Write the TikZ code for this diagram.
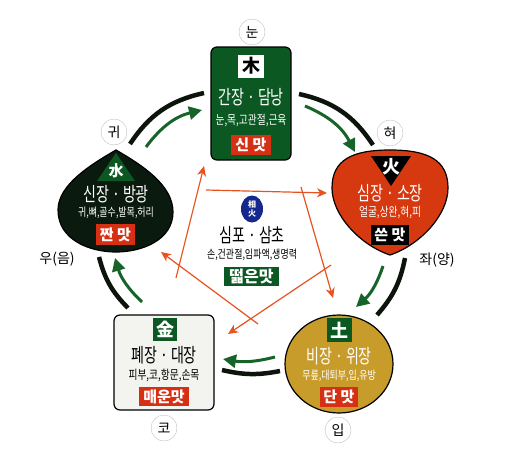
\documentclass[tikz,border=0pt]{standalone}
\usepackage{fontspec}
\newfontfamily\kr[FakeStretch=0.72]{Noto Sans CJK KR}
\newfontfamily\krpart[FakeStretch=0.78]{Noto Sans CJK KR}
\newfontfamily\krwide{Noto Sans CJK KR}
\usetikzlibrary{arrows.meta, shapes.geometric, positioning}

\definecolor{woodgreen}{RGB}{12,88,34}
\definecolor{firered}{RGB}{214,56,16}
\definecolor{earthgold}{RGB}{200,156,42}
\definecolor{metalwhite}{RGB}{243,243,240}
\definecolor{waterblack}{RGB}{10,26,14}
\definecolor{tastered}{RGB}{214,48,20}
\definecolor{flowgreen}{RGB}{22,100,42}
\definecolor{ringblack}{RGB}{12,20,12}
\definecolor{checkorange}{RGB}{232,82,30}
\definecolor{xiangblue}{RGB}{22,40,140}

\newcommand{\organfont}{\kr\fontsize{19.5}{20}\selectfont}
\newcommand{\partfont}{\krpart\fontsize{12.5}{13}\selectfont}
\newcommand{\tastefont}{\krwide\bfseries\fontsize{15}{16}\selectfont}
\newcommand{\hanjafont}{\krwide\bfseries\fontsize{18}{19}\selectfont}
\newcommand{\sensefont}{\krwide\fontsize{14}{15}\selectfont}

\begin{document}
\begin{tikzpicture}[x=1pt, y=-1pt]
\tikzstyle{body}=[draw=black, line width=1.2]
\tikzstyle{organ}=[font=\organfont, inner sep=0]
\tikzstyle{part}=[font=\partfont, inner sep=0]
\tikzstyle{taste}=[fill=tastered, text=white, font=\tastefont, minimum width=40, minimum height=20, inner sep=0]
\tikzstyle{hanja}=[font=\hanjafont, text=white, inner sep=0]
\tikzstyle{sense}=[circle, draw=black!25, minimum size=26, inner sep=0, font=\sensefont]
\tikzstyle{ring}=[draw=ringblack, line width=4.5]
\tikzstyle{flow}=[draw=flowgreen, line width=3, -{Triangle[length=13pt,width=13pt]}]
\tikzstyle{check}=[draw=checkorange, line width=1.2, -{Stealth[length=10pt,width=9pt,inset=3pt]}]
\useasboundingbox (0,0) rectangle (508,471);

\node[body, fill=woodgreen, rounded corners=6, minimum width=80, minimum height=113] (wood) at (251,103.5) {};
\draw[body, fill=firered] (390,255) .. controls (360,245) and (332,215) .. (332,188) .. controls (332,160) and (352,150) .. (390,150) .. controls (428,150) and (448,160) .. (448,188) .. controls (448,215) and (420,245) .. (390,255) -- cycle;
\node[body, ellipse, fill=earthgold, minimum width=108, minimum height=98, inner sep=0] (earth) at (339,364) {};
\node[body, fill=metalwhite, rounded corners=6, minimum width=100, minimum height=95] (metal) at (164,362.5) {};
\draw[body, fill=waterblack] (116,150) .. controls (90,165) and (58,185) .. (58,210) .. controls (58,240) and (90,252) .. (116,252) .. controls (142,252) and (173,240) .. (173,212) .. controls (173,185) and (142,165) .. (116,150) -- cycle;

\node[hanja, fill=white, text=black, minimum width=26, minimum height=23] (woodsym) at (251,66) {木};
\node[organ, text=white] (woodorgan) at (251,97) {간장 · 담낭};
\node[part, text=white] (woodpart) at (251,121) {눈,목,고관절,근육};
\node[taste] (woodtaste) at (251,145) {신 맛};

\fill[black] (371,156) -- (411,156) -- (391,186) -- cycle;
\node[hanja] (firesym) at (391,167) {火};
\node[organ, text=white] (fireorgan) at (390,193) {심장 · 소장};
\node[part, text=white] (firepart) at (390,213) {얼굴,상완,혀,피};
\node[taste, fill=black, minimum width=38] (firetaste) at (390,235) {쓴 맛};

\node[hanja, fill=woodgreen, minimum width=25, minimum height=24] (earthsym) at (339.5,330) {土};
\node[organ, text=white] (earthorgan) at (339,356) {비장 · 위장};
\node[part, text=white, font=\krpart\fontsize{11.5}{12}\selectfont] (earthpart) at (339,376) {무릎,대퇴부,입,유방};
\node[taste, minimum width=38] (earthtaste) at (339,397) {단 맛};

\node[hanja, fill=woodgreen, minimum width=24, minimum height=23] (metalsym) at (165,329.5) {金};
\node[organ] (metalorgan) at (164,355) {폐장 · 대장};
\node[part] (metalpart) at (164,375) {피부,코,항문,손목};
\node[taste, minimum width=50, minimum height=19] (metaltaste) at (164,396.5) {매운맛};

\fill[woodgreen] (97,181) -- (135,181) -- (116,153) -- cycle;
\node[hanja, font=\krwide\bfseries\fontsize{15}{16}\selectfont] (watersym) at (116,171) {水};
\node[organ, text=white] (waterorgan) at (116,194) {신장 · 방광};
\node[part, text=white, font=\krpart\fontsize{11.5}{12}\selectfont] (waterpart) at (116,213) {귀,뼈,골수,발목,허리};
\node[taste, minimum width=39, minimum height=21] (watertaste) at (115.5,234.5) {짠 맛};

\node[ellipse, fill=xiangblue, text=white, minimum width=22, minimum height=27, inner sep=0, align=center, font=\krwide\bfseries\fontsize{8}{9}\selectfont] (xiang) at (252,209) {相\\火};
\node[organ] (xiangorgan) at (252,235) {심포 · 삼초};
\node[part, font=\krpart\fontsize{11.5}{12}\selectfont] (xiangpart) at (252,255) {손,건관절,임파액,생명력};
\node[taste, fill=woodgreen, minimum width=55, minimum height=19, font=\krwide\bfseries\fontsize{16}{17}\selectfont] (xiangtaste) at (251.5,276.5) {떫은맛};

\node[sense] (eye) at (252,32) {눈};
\node[sense] (tongue) at (390,133) {혀};
\node[sense] (ear) at (114,132) {귀};
\node[sense] (nose) at (164,428) {코};
\node[sense] (mouth) at (338,430) {입};
\node[font=\sensefont] (yin) at (57,259) {우(음)};
\node[font=\sensefont] (yang) at (437,260) {좌(양)};

\coordinate (wf1) at (299,94);
\coordinate (wf2) at (373,145);
\coordinate (fe1) at (405,258);
\coordinate (fe2) at (377,315);
\coordinate (em1) at (280,371);
\coordinate (em2) at (222,370);
\coordinate (mw1) at (128,308);
\coordinate (mw2) at (99,257);
\coordinate (ww1) at (130,144);
\coordinate (ww2) at (204,93);
\path (wf1) edge [ring, bend left=22] (wf2);
\path (fe1) edge [ring, bend left=15] (fe2);
\path (em1) edge [ring, bend left=12] (em2);
\path (mw1) edge [ring, bend left=15] (mw2);
\path (ww1) edge [ring, bend left=22] (ww2);

\coordinate (gwf1) at (305,106);
\coordinate (gwf2) at (355,152);
\coordinate (gfe1) at (383,266);
\coordinate (gfe2) at (356,307);
\coordinate (gem1) at (275,357);
\coordinate (gem2) at (223,359);
\coordinate (gmw1) at (142,302);
\coordinate (gmw2) at (115,258);
\coordinate (gww1) at (146,147);
\coordinate (gww2) at (202,110);
\path (gwf1) edge [flow, bend left=20] (gwf2);
\path (gfe1) edge [flow, bend left=15] (gfe2);
\path (gem1) edge [flow, bend left=12] (gem2);
\path (gmw1) edge [flow, bend left=15] (gmw2);
\path (gww1) edge [flow, bend left=20] (gww2);

\coordinate (cmw1) at (176,278);
\coordinate (cmw2) at (204,166);
\coordinate (cwf1) at (206,190);
\coordinate (cwf2) at (327,193);
\coordinate (cwe1) at (301,187);
\coordinate (cwe2) at (333,298);
\coordinate (cfm1) at (331,265);
\coordinate (cfm2) at (228,334);
\coordinate (cew1) at (258,324);
\coordinate (cew2) at (161,252);
\path (cmw1) edge [check] (cmw2);
\path (cwf1) edge [check] (cwf2);
\path (cwe1) edge [check] (cwe2);
\path (cfm1) edge [check] (cfm2);
\path (cew1) edge [check] (cew2);
\end{tikzpicture}
\end{document}
